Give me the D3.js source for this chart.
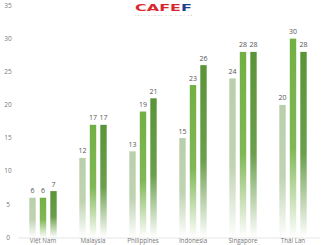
<!DOCTYPE html>
<html>
<head>
<meta charset="utf-8">
<script src="https://cdn.jsdelivr.net/npm/d3@7"></script>
<style>
  body { margin: 0; background: #fff; }
  svg { display: block; font-family: "Open Sans", "Noto Sans", sans-serif; }
</style>
</head>
<body>
<svg id="chart"></svg>
<script>
const countries = ['Việt Nam', 'Malaysia', 'Philippines', 'Indonesia', 'Singapore', 'Thái Lan'];
const seriesA = [6, 12, 13, 15, 24, 20];
const seriesB = [6, 17, 19, 23, 28, 30];
const seriesC = [7, 17, 21, 26, 28, 28];
const yTicks = [0, 5, 10, 15, 20, 25, 30, 35];

const width = 326;
const height = 245;

const svg = d3.select('#chart').
  attr('width', width).
  attr('height', height);

const colors = ['#b9cfaa', '#72b043', '#5a9438'];

const defs = svg.append('defs');
colors.forEach((c, i) => {
  const g = defs.append('linearGradient').
    attr('id', 'grad' + i).
    attr('x1', 0).attr('y1', 0).attr('x2', 0).attr('y2', 1);
  g.append('stop').attr('offset', '0%').attr('stop-color', c).attr('stop-opacity', 1);
  g.append('stop').attr('offset', '55%').attr('stop-color', c).attr('stop-opacity', 0.9);
  g.append('stop').attr('offset', '100%').attr('stop-color', c).attr('stop-opacity', 0);
});

const x0 = d3.scaleBand().domain(countries).range([18, 318]).padding(0);
const x1 = d3.scaleBand().domain([0, 1, 2]).range([-13.7, 13.7]).paddingInner(0.39).paddingOuter(0);
const y = d3.scaleLinear().domain([0, 35]).range([237.5, 5.5]);

// baseline
svg.append('line').
  attr('x1', 18).attr('x2', 320).
  attr('y1', y(0) + 0.5).attr('y2', y(0) + 0.5).
  attr('stroke', '#e6e6e6').attr('stroke-width', 1);

// y tick labels
svg.selectAll('.ytick').
  data(yTicks).
  enter().
  append('text').
  attr('x', 8).
  attr('y', d => y(d)).
  attr('dy', '0.35em').
  attr('text-anchor', 'middle').
  style('font-size', '6.5px').
  style('fill', '#777').
  text(d => d);

const data = countries.map((c, i) => ({
  country: c,
  values: [seriesA[i], seriesB[i], seriesC[i]],
}));

const groups = svg.selectAll('.grp').
  data(data).
  enter().
  append('g').
  attr('transform', d => `translate(${x0(d.country) + x0.bandwidth() / 2},0)`);

groups.selectAll('rect').
  data(d => d.values.map((v, k) => ({ v, k }))).
  enter().
  append('rect').
  attr('x', d => x1(d.k)).
  attr('y', d => y(d.v)).
  attr('width', x1.bandwidth()).
  attr('height', d => y(0) - y(d.v)).
  attr('fill', d => `url(#grad${d.k})`);

groups.selectAll('.val').
  data(d => d.values.map((v, k) => ({ v, k }))).
  enter().
  append('text').
  attr('x', d => x1(d.k) + x1.bandwidth() / 2).
  attr('y', d => y(d.v) - 4.5).
  attr('text-anchor', 'middle').
  style('font-size', '7px').
  style('fill', '#555').
  text(d => d.v);

// category labels
groups.append('text').
  attr('x', 0).
  attr('y', 243.2).
  attr('text-anchor', 'middle').
  style('font-size', '6.2px').
  style('fill', '#777').
  text(d => d.country);

// logo
const logo = svg.append('text').
  attr('x', 135).
  attr('y', 10.5).
  attr('textLength', 57).
  attr('lengthAdjust', 'spacingAndGlyphs').
  style('font-family', '"DejaVu Sans", sans-serif').
  style('font-weight', 'bold').
  style('font-size', '9.5px');
logo.append('tspan').attr('fill', '#d7282f').text('CAFE');
logo.append('tspan').attr('fill', '#1d3f8c').text('F');

svg.append('text').
  attr('x', 135).
  attr('y', 15.5).
  attr('textLength', 57).
  attr('lengthAdjust', 'spacing').
  style('font-size', '2.5px').
  style('fill', '#aaa').
  text('KÊNH THÔNG TIN KINH TẾ');
</script>
</body>
</html>
